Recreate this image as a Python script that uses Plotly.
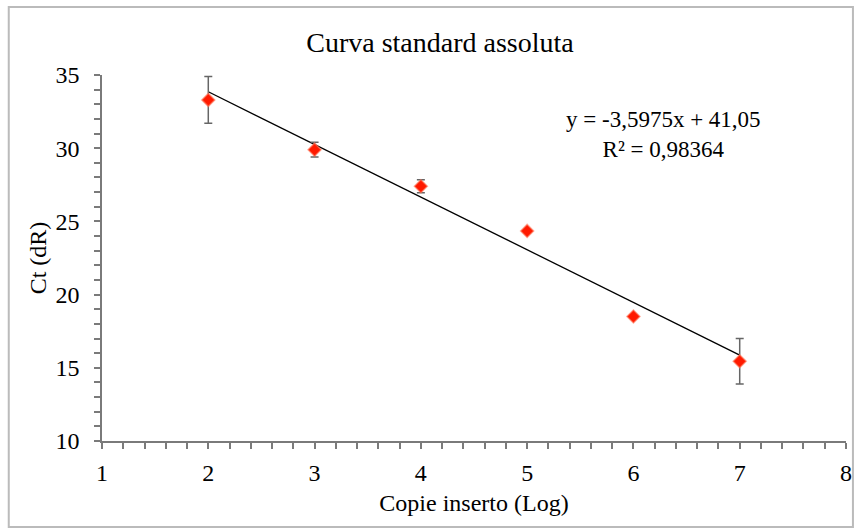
import plotly.graph_objects as go

# Data
copie_log = [2, 3, 4, 5, 6, 7]
ct_values = [33.3, 29.9, 27.4, 24.35, 18.5, 15.45]
ct_errors = [1.6, 0.5, 0.45, 0.1, 0.1, 1.55]
slope = -3.5975
intercept = 41.05
equation_text = "y = -3,5975x + 41,05<br>R² = 0,98364"
title_text = "Curva standard assoluta"
x_title = "Copie inserto (Log)"
y_title = "Ct (dR)"
x_tick_labels = ["1", "2", "3", "4", "5", "6", "7", "8"]
y_tick_labels = ["10", "15", "20", "25", "30", "35"]

fit_x = [min(copie_log), max(copie_log)]
fit_y = [slope * v + intercept for v in fit_x]

W, H = 861, 529
ml, mr, mt, mb = 102, 9, 75, 88
pw, ph = W - ml - mr, H - mt - mb

font = "Liberation Serif, Times New Roman, serif"
tick_col = "#7a7a7a"

fig = go.Figure()
fig.add_trace(go.Scatter(
    x=fit_x, y=fit_y, mode="lines",
    line=dict(color="black", width=1.3), showlegend=False, hoverinfo="skip"))
fig.add_trace(go.Scatter(
    x=copie_log, y=ct_values, mode="markers",
    error_y=dict(type="data", array=ct_errors, visible=True,
                 color="#666666", thickness=1.5, width=4),
    marker=dict(symbol="diamond", size=10, color="#ff1a00",
                line=dict(color="rgba(255,120,90,0.6)", width=1.5)),
    showlegend=False))

def px_x(p):
    return (p - ml) / pw

def px_y(p):
    return (H - mb - p) / ph

fig.add_shape(type="rect", xref="paper", yref="paper",
              x0=px_x(8), x1=px_x(859), y0=px_y(527), y1=px_y(7),
              line=dict(color="#bbbbbb", width=2), layer="below")

fig.add_annotation(text=equation_text, xref="x", yref="y",
                   x=6.28, y=30.95, showarrow=False, align="center",
                   font=dict(family=font, size=23, color="black"))

fig.update_layout(
    width=W, height=H,
    margin=dict(l=ml, r=mr, t=mt, b=mb, pad=0),
    paper_bgcolor="white", plot_bgcolor="white",
    title=dict(text=title_text, x=(440) / W, xanchor="center",
               y=1 - 42 / H, yanchor="middle",
               font=dict(family=font, size=28, color="black")),
    font=dict(family=font, size=24, color="black"),
    xaxis=dict(range=[1, 8], tickmode="array",
               tickvals=list(range(1, 9)), ticktext=x_tick_labels,
               showgrid=False, zeroline=False,
               showline=True, linecolor=tick_col, linewidth=1.5,
               ticks="outside", ticklen=6, tickcolor=tick_col, tickwidth=1.5,
               minor=dict(tickmode="linear", tick0=1, dtick=0.2, ticks="outside",
                          ticklen=6, tickcolor=tick_col, tickwidth=1.5, showgrid=False),
               ticklabelstandoff=3,
               title=dict(text=x_title, standoff=10,
                          font=dict(family=font, size=24))),
    yaxis=dict(range=[10, 35], tickmode="array",
               tickvals=[10, 15, 20, 25, 30, 35], ticktext=y_tick_labels,
               showgrid=False, zeroline=False,
               showline=True, linecolor=tick_col, linewidth=1.5,
               ticks="outside", ticklen=6, tickcolor=tick_col, tickwidth=1.5,
               minor=dict(tickmode="linear", tick0=10, dtick=1, ticks="outside",
                          ticklen=6, tickcolor=tick_col, tickwidth=1.5, showgrid=False),
               ticklabelstandoff=10,
               title=dict(text=y_title, standoff=2,
                          font=dict(family=font, size=24))),
)

fig.write_html("out.html")
